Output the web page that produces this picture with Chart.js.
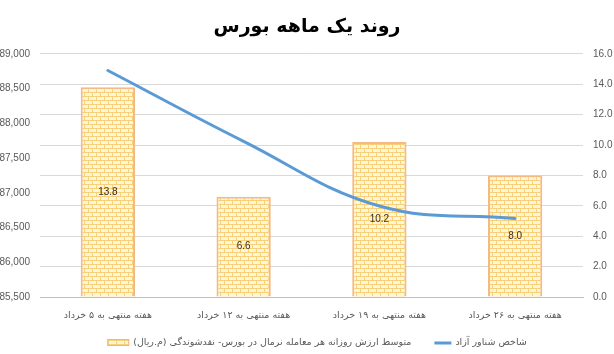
<!DOCTYPE html>
<html><head><meta charset="utf-8">
<script src="https://cdn.jsdelivr.net/npm/chart.js@4.4.1/dist/chart.umd.min.js"></script>
<style>html,body{margin:0;padding:0;background:#fff;}#wrap{width:614px;height:354px;}</style>
</head><body><div id="wrap"><canvas id="c" width="614" height="354"></canvas></div>
<script>
// ---- data ----
const chartTitle = 'روند یک ماهه بورس';
const categories = ['هفته منتهی به ۵ خرداد', 'هفته منتهی به ۱۲ خرداد', 'هفته منتهی به ۱۹ خرداد', 'هفته منتهی به ۲۶ خرداد'];
const barLabel = 'متوسط ارزش روزانه هر معامله نرمال در بورس- نقدشوندگی (م.ریال)';
const barValues = [13.8, 6.6, 10.2, 8.0];
const lineLabel = 'شاخص شناور آزاد';
const lineValues = [88760, 87740, 86810, 86630];
const leftAxisTicks = [85500, 86000, 86500, 87000, 87500, 88000, 88500, 89000];
const rightAxisTicks = [0, 2, 4, 6, 8, 10, 12, 14, 16];

// ---- styling helpers ----
const FONT = "'Liberation Sans', 'DejaVu Sans', sans-serif";
const PFONT = "'DejaVu Sans', sans-serif";
function brickPattern() {
  const t = document.createElement('canvas');
  t.width = 8; t.height = 8;
  const g = t.getContext('2d');
  g.fillStyle = '#fff6d8'; g.fillRect(0, 0, 8, 8);
  g.fillStyle = '#f9cf78';
  g.fillRect(0, 0, 8, 1);
  g.fillRect(0, 4, 8, 1);
  g.fillRect(0, 0, 1, 4);
  g.fillRect(4, 4, 1, 4);
  return g.createPattern(t, 'repeat');
}
const pattern = brickPattern();

const barLabelsPlugin = {
  id: 'barLabels',
  afterDatasetsDraw(chart) {
    const meta = chart.getDatasetMeta(0);
    const ctx = chart.ctx;
    ctx.save();
    ctx.font = "10px " + FONT;
    ctx.fillStyle = '#303030';
    ctx.textAlign = 'center';
    ctx.textBaseline = 'middle';
    meta.data.forEach((el, i) => {
      const v = chart.data.datasets[0].data[i];
      ctx.fillText(v.toFixed(1), el.x, (el.y + el.base) / 2);
    });
    ctx.restore();
  }
};

const legendPlugin = {
  id: 'customLegend',
  afterDraw(chart) {
    const ctx = chart.ctx;
    ctx.save();
    ctx.font = "9.5px " + PFONT;
    ctx.direction = 'rtl';
    const w1 = ctx.measureText(barLabel).width;
    const w2 = ctx.measureText(lineLabel).width;
    const boxW = 22, lineW = 17, gap = 4, itemGap = 23;
    const total = boxW + gap + w1 + itemGap + lineW + gap + w2;
    let x = 317 - total / 2;
    const y = 343;
    ctx.fillStyle = pattern;
    ctx.fillRect(x, y - 4, boxW, 7);
    ctx.strokeStyle = '#f4b183'; ctx.lineWidth = 1;
    ctx.strokeRect(x + 0.5, y - 3.5, boxW - 1, 6);
    x += boxW + gap;
    ctx.fillStyle = '#595959';
    ctx.textBaseline = 'middle';
    ctx.textAlign = 'right';
    ctx.fillText(barLabel, x + w1, y);
    x += w1 + itemGap;
    ctx.strokeStyle = '#5b9bd5'; ctx.lineWidth = 3;
    ctx.beginPath(); ctx.moveTo(x, y); ctx.lineTo(x + lineW, y); ctx.stroke();
    x += lineW + gap;
    ctx.fillText(lineLabel, x + w2, y);
    ctx.restore();
  }
};

new Chart(document.getElementById('c'), {
  data: {
    labels: categories,
    datasets: [
      {
        type: 'bar', label: barLabel, data: barValues, yAxisID: 'yR', order: 2,
        backgroundColor: pattern, borderColor: '#f5b984', borderWidth: 2,
        categoryPercentage: 1, barPercentage: 0.4
      },
      {
        type: 'line', label: lineLabel, data: lineValues, yAxisID: 'yL', order: 1,
        borderColor: '#5b9bd5', borderWidth: 3, pointRadius: 0, tension: 0.4, fill: false,
        borderCapStyle: 'round'
      }
    ]
  },
  options: {
    responsive: false, animation: false, devicePixelRatio: 1,
    layout: { padding: { left: 0, right: 0, top: 0, bottom: 27 } },
    plugins: {
      legend: { display: false },
      tooltip: { enabled: false },
      title: {
        display: true, text: chartTitle, color: '#000',
        font: { family: PFONT, size: 19, weight: 'bold' },
        padding: { top: 16, bottom: 15 }
      }
    },
    scales: {
      x: {
        type: 'category', offset: true,
        grid: { display: false, drawTicks: false },
        border: { display: true, color: '#bfbfbf', width: 1 },
        ticks: { color: '#595959', font: { family: PFONT, size: 9.5 }, padding: 13, maxRotation: 0, autoSkip: false },
        afterFit(s) { s.height = 30; }
      },
      yL: {
        position: 'left',
        min: leftAxisTicks[0], max: leftAxisTicks[leftAxisTicks.length - 1],
        afterBuildTicks(s) { s.ticks = leftAxisTicks.map(v => ({ value: v })); },
        grid: { display: false, drawTicks: false },
        border: { display: false },
        ticks: {
          color: '#595959', font: { family: FONT, size: 10 }, padding: 10,
          callback: v => Number(v).toLocaleString('en-US')
        },
        afterFit(s) { s.width = 40; }
      },
      yR: {
        position: 'right',
        min: rightAxisTicks[0], max: rightAxisTicks[rightAxisTicks.length - 1],
        afterBuildTicks(s) { s.ticks = rightAxisTicks.map(v => ({ value: v })); },
        grid: { display: true, color: '#d9d9d9', drawTicks: false },
        border: { display: false },
        ticks: {
          color: '#595959', font: { family: FONT, size: 10 }, padding: 10,
          callback: v => Number(v).toFixed(1)
        },
        afterFit(s) { s.width = 31; }
      }
    }
  },
  plugins: [barLabelsPlugin, legendPlugin]
});
</script></body></html>
